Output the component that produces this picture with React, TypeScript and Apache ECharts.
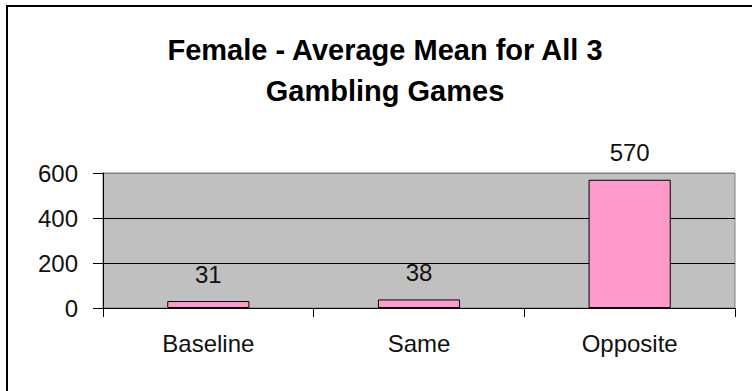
import React, { useEffect, useRef } from "react";
import * as echarts from "echarts";

const categories = ["Baseline", "Same", "Opposite"];
const values = [31, 38, 570];
const titleLines = ["Female - Average Mean for All 3", "Gambling Games"];

export default function App() {
  const ref = useRef<HTMLDivElement>(null);
  useEffect(() => {
    if (!ref.current) return;
    const chart = echarts.init(ref.current, null, { renderer: "svg" });
    const font = "Liberation Sans, Arial, sans-serif";
    chart.setOption({
      animation: false,
      backgroundColor: "#ffffff",
      graphic: [
        {
          type: "text",
          x: 385,
          y: 50,
          style: {
            text: titleLines[0],
            fontFamily: font,
            fontWeight: "bold",
            fontSize: 29,
            fill: "#000",
            textAlign: "center",
            textVerticalAlign: "middle",
          },
        },
        {
          type: "text",
          x: 385,
          y: 91,
          style: {
            text: titleLines[1],
            fontFamily: font,
            fontWeight: "bold",
            fontSize: 29,
            fill: "#000",
            textAlign: "center",
            textVerticalAlign: "middle",
          },
        },
        {
          type: "rect",
          shape: { x: 7, y: 6, width: 800, height: 420 },
          style: { fill: "none", stroke: "#000", lineWidth: 2 },
          silent: true,
          z: 100,
        },
      ],
      grid: { left: 103, right: 17, top: 173, bottom: 83, show: true, backgroundColor: "#C0C0C0", borderColor: "#808080", borderWidth: 1 },
      xAxis: {
        type: "category",
        data: categories,
        axisLine: { show: true, lineStyle: { color: "#000", width: 1 } },
        axisTick: { show: true, length: 9, lineStyle: { color: "#000" }, alignWithLabel: false },
        axisLabel: { color: "#111", fontFamily: font, fontSize: 24, margin: 23 },
      },
      yAxis: {
        type: "value",
        min: 0,
        max: 600,
        interval: 200,
        axisLine: { show: true, lineStyle: { color: "#000", width: 1 } },
        axisTick: { show: true, length: 10, lineStyle: { color: "#000" } },
        axisLabel: { color: "#111", fontFamily: font, fontSize: 24, margin: 25 },
        splitLine: { show: true, lineStyle: { color: ["#000", "#000", "#000", "#808080"], width: 1 } },
      },
      series: [
        {
          type: "bar",
          data: values,
          barWidth: "39%",
          itemStyle: { color: "#FF99CC", borderColor: "#000", borderWidth: 1 },
          label: {
            show: true,
            position: "top",
            distance: 15,
            color: "#111",
            fontFamily: font,
            fontSize: 24,
          },
        },
      ],
    });
    return () => chart.dispose();
  }, []);
  return <div ref={ref} style={{ width: 752, height: 391, position: "absolute", left: 0, top: 0 }} />;
}
